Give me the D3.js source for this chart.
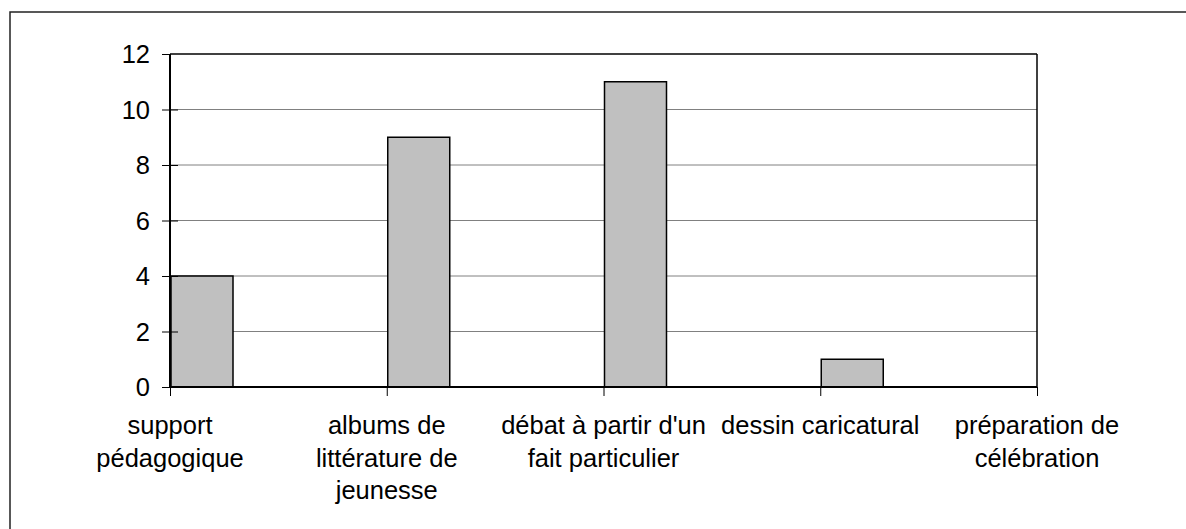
<!DOCTYPE html>
<html>
<head>
<meta charset="utf-8">
<script src="https://cdn.jsdelivr.net/npm/d3@7"></script>
<style>
  body { margin:0; background:#fff; }
  svg text { font-family: "Liberation Sans", Arial, sans-serif; font-size:25.5px; fill:#000; }
</style>
</head>
<body>
<svg id="chart" width="1186" height="529"></svg>
<script>
// chart data
var categories = ["support pédagogique", "albums de littérature de jeunesse",
    "débat à partir d'un fait particulier", "dessin caricatural", "préparation de célébration"];
var labelLines = [["support", "pédagogique"], ["albums de", "littérature de", "jeunesse"],
    ["débat à partir d'un", "fait particulier"], ["dessin caricatural"], ["préparation de", "célébration"]];
var values = [4, 9, 11, 1, 0];
var yTicks = [0, 2, 4, 6, 8, 10, 12];

var svg = d3.select("#chart");
var plotLeft = 170, plotRight = 1037, plotTop = 54, plotBottom = 387;

var x = d3.scalePoint().domain(categories).range([plotLeft, plotRight]);
var y = d3.scaleLinear().domain([0, 12]).range([plotBottom, plotTop]);

// outer frame, runs off the window on right and bottom
svg.append("rect")
    .attr("x", 10).attr("y", 12)
    .attr("width", 1200).attr("height", 540)
    .attr("fill", "none").attr("stroke", "#222").attr("stroke-width", 1.5);

// gridlines
svg.append("g").selectAll("line")
    .data(yTicks.filter(function(d){ return d > 0 && d < 12; }))
    .join("line")
    .attr("x1", plotLeft).attr("x2", plotRight)
    .attr("y1", function(d){ return y(d); }).attr("y2", function(d){ return y(d); })
    .attr("stroke", "#808080").attr("stroke-width", 1);

// bars start at the category tick and go right
svg.append("g").selectAll("rect")
    .data(values.map(function(v, i){ return {cat: categories[i], v: v}; }).filter(function(d){ return d.v > 0; }))
    .join("rect")
    .attr("x", function(d){ return x(d.cat) + 1; })
    .attr("y", function(d){ return y(d.v); })
    .attr("width", 62)
    .attr("height", function(d){ return y(0) - y(d.v); })
    .attr("fill", "#c0c0c0").attr("stroke", "#000").attr("stroke-width", 1.5);

// plot frame top / right
svg.append("line").attr("x1", plotLeft).attr("x2", plotRight).attr("y1", plotTop).attr("y2", plotTop)
    .attr("stroke", "#000").attr("stroke-width", 1.5);
svg.append("line").attr("x1", plotRight).attr("x2", plotRight).attr("y1", plotTop).attr("y2", plotBottom)
    .attr("stroke", "#000").attr("stroke-width", 1.5);

// y axis
var yAxis = d3.axisLeft(y).tickValues(yTicks).tickSize(0).tickPadding(0);
var gy = svg.append("g").attr("transform", "translate(" + plotLeft + ",0)").call(yAxis);
gy.select(".domain").remove();
gy.selectAll(".tick text").attr("x", -20).attr("dy", "0.35em").style("font-size", "25.5px")
    .style("font-family", "Liberation Sans, Arial, sans-serif").attr("fill", "#000");
gy.selectAll(".tick").append("line")
    .attr("x1", -8).attr("x2", function(d){ return d === 12 ? 0 : 8; })
    .attr("stroke", "#000").attr("stroke-width", 1);
svg.append("line").attr("x1", plotLeft).attr("x2", plotLeft).attr("y1", plotTop).attr("y2", plotBottom)
    .attr("stroke", "#000").attr("stroke-width", 2);

// x axis
var xAxis = d3.axisBottom(x).tickSize(9).tickFormat("");
var gx = svg.append("g").attr("transform", "translate(0," + plotBottom + ")").call(xAxis);
gx.select(".domain").remove();
gx.selectAll(".tick line").attr("stroke", "#000").attr("stroke-width", 1);
svg.append("line").attr("x1", plotLeft).attr("x2", plotRight).attr("y1", plotBottom).attr("y2", plotBottom)
    .attr("stroke", "#000").attr("stroke-width", 2);

// multi-line category labels
var lab = svg.append("g").selectAll("text")
    .data(categories)
    .join("text")
    .attr("text-anchor", "middle")
    .attr("transform", function(d){ return "translate(" + x(d) + ",434)"; });
lab.selectAll("tspan")
    .data(function(d, i){ return labelLines[i]; })
    .join("tspan")
    .attr("x", 0)
    .attr("y", function(d, i){ return i * 32.5; })
    .text(function(d){ return d; });
</script>
</body>
</html>
